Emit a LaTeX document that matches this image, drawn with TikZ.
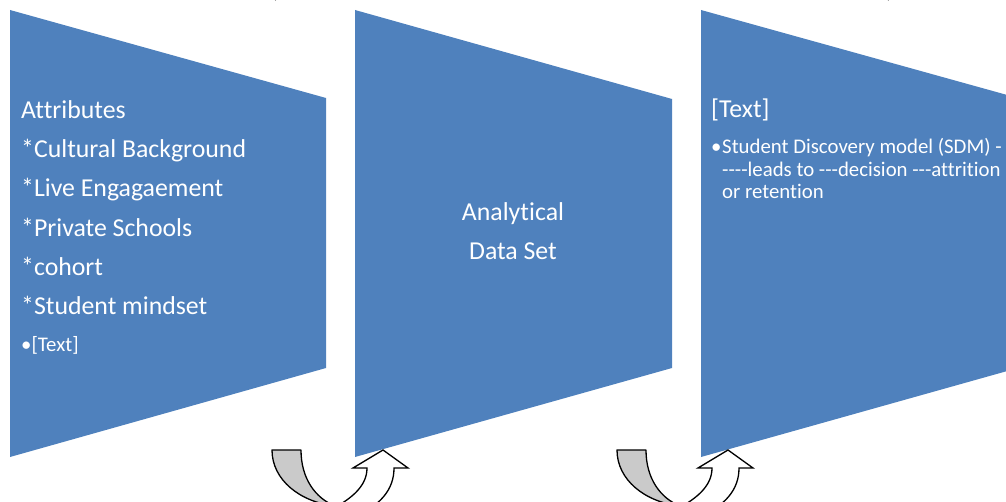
\documentclass[tikz,border=0pt]{standalone}
\usepackage{fontspec}
\setmainfont{Carlito}[Ligatures=NoCommon]
\definecolor{funnelblue}{HTML}{4F81BD}
\definecolor{tailgray}{HTML}{CACACA}
\begin{document}
\begin{tikzpicture}[x=1pt,y=-1pt,
  funnel/.style={fill=funnelblue,draw=none},
  bigtxt/.style={text=white,inner sep=0pt,font=\fontsize{25.8}{30}\selectfont},
  smalltxt/.style={text=white,inner sep=0pt,font=\fontsize{20.8}{25}\selectfont},
  tailpart/.style={fill=tailgray,draw=black,line width=1.3pt,line join=round},
  bodypart/.style={fill=white,draw=black,line width=1.3pt,line join=miter},
  cuttxt/.style={text=black,inner sep=0pt,font=\fontsize{25.8}{30}\selectfont}]
\useasboundingbox (0,0) rectangle (1006,502);
\clip (0,0) rectangle (1006,502);
% funnels
\path[funnel] (10,10) -- (326,98) -- (326,368) -- (10,457) -- cycle;
\path[funnel] (355,10) -- (672,99) -- (672,368) -- (355,457) -- cycle;
\path[funnel] (701,10) -- (1018,98) -- (1018,368) -- (701,457) -- cycle;
% cut-off text at the top
\node[cuttxt,anchor=base] (pl) at (274,-2) {(};
\node[cuttxt,anchor=base] (pr) at (890,-2) {)};
% left funnel text
\node[bigtxt,anchor=base west] (a1) at (21,119) {Attributes};
\node[bigtxt,anchor=base west] (a2) at (21,158) {*Cultural Background};
\node[bigtxt,anchor=base west] (a3) at (21,197) {*Live Engagaement};
\node[bigtxt,anchor=base west] (a4) at (21,237) {*Private Schools};
\node[bigtxt,anchor=base west] (a5) at (21,276) {*cohort};
\node[bigtxt,anchor=base west] (a6) at (21,315) {*Student mindset};
\node[smalltxt,anchor=base west] (a7) at (21,352) {•[Text]};
% middle funnel text
\node[bigtxt,anchor=base] (m1) at (513,221) {Analytical};
\node[bigtxt,anchor=base] (m2) at (513,260) {Data Set};
% right funnel text
\node[bigtxt,anchor=base west] (r1) at (711,118) {[Text]};
\node[smalltxt,anchor=base west] (rb) at (711,154) {•};
\node[smalltxt,anchor=base west] (r2) at (722,154) {Student Discovery model (SDM) -};
\node[smalltxt,anchor=base west] (r3) at (722,177) {-{}-{}-{}-leads to -{}-{}-decision -{}-{}-attrition};
\node[smalltxt,anchor=base west] (r4) at (722,199) {or retention};
% curved up arrows
\foreach \dx in {0,345}{
  \begin{scope}[xshift=\dx]
  \path[tailpart] (272,450) -- (301,450) .. controls (301,478) and (315,498) .. (335,506)
     .. controls (300,502) and (272,480) .. (272,450) -- cycle;
  \path[bodypart] (367,468) .. controls (367,486) and (352,500) .. (322,514)
     -- (352,518) .. controls (380,506) and (394,490) .. (394,468)
     -- (408,468) -- (383,450) -- (353,468) -- cycle;
  \end{scope}
}
\end{tikzpicture}
\end{document}
